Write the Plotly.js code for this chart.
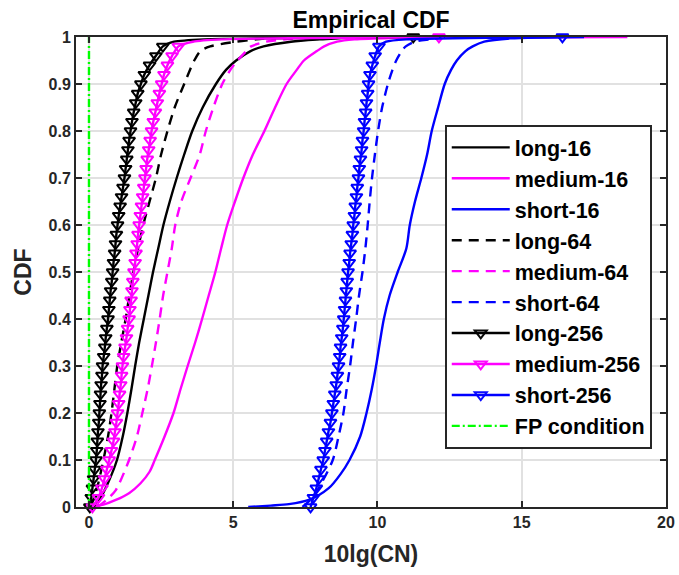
<!DOCTYPE html>
<html>
<head>
<meta charset="utf-8">
<script src="https://cdn.plot.ly/plotly-3.0.1.min.js"></script>
<style>html,body{margin:0;padding:0;background:#fff;}#chart{width:679px;height:575px;}</style>
</head>
<body>
<div id="chart"></div>
<script>
// ---- data (x = 10lg(CN), c = CDF) ----
const long16X = [0.10,0.40,0.65,0.97,1.17,1.33,1.47,1.60,1.74,1.90,2.06,2.22,2.40,2.58,2.80,3.04,3.30,3.58,3.94,4.40,4.75,5.10,5.60,6.05,7.0,8.0,9.5];
const long16C = [0,0.02,0.05,0.1,0.15,0.2,0.25,0.3,0.35,0.4,0.45,0.5,0.55,0.6,0.65,0.7,0.75,0.8,0.85,0.9,0.93,0.95,0.97,0.98,0.99,0.995,1];

const medium16X = [0.05,0.5,0.93,1.40,1.78,2.10,2.28,2.62,2.93,3.17,3.42,3.68,3.92,4.15,4.38,4.58,4.79,5.06,5.35,5.68,6.08,6.45,6.85,7.20,7.45,7.90,8.15,8.60,9.2,10.5,18.66];
const medium16C = [0,0.005,0.015,0.03,0.05,0.075,0.1,0.15,0.2,0.25,0.3,0.35,0.4,0.45,0.5,0.55,0.6,0.65,0.7,0.75,0.8,0.85,0.9,0.93,0.95,0.97,0.98,0.99,0.995,0.998,1];

const short16X = [5.52,6.3,6.93,7.62,8.31,8.72,9.03,9.40,9.62,9.80,9.95,10.08,10.22,10.42,10.70,11.00,11.12,11.30,11.52,11.72,11.88,12.10,12.33,12.55,12.75,13.05,13.30,13.70,14.6,17.16];
const short16C = [0,0.003,0.006,0.015,0.04,0.07,0.1,0.15,0.2,0.25,0.3,0.35,0.4,0.45,0.5,0.55,0.6,0.65,0.7,0.75,0.8,0.85,0.9,0.93,0.95,0.97,0.98,0.99,0.997,1];

const long64X = [0.05,0.18,0.32,0.50,0.66,0.78,0.88,0.98,1.12,1.27,1.40,1.54,1.70,1.88,2.10,2.32,2.50,2.72,2.97,3.30,3.50,3.65,3.86,4.20,5.10,5.8,6.8];
const long64C = [0,0.02,0.05,0.1,0.15,0.2,0.25,0.3,0.35,0.4,0.45,0.5,0.55,0.6,0.65,0.7,0.75,0.8,0.85,0.9,0.93,0.95,0.97,0.98,0.99,0.995,1];

const medium64X = [0.30,0.70,0.93,1.05,1.39,1.66,1.85,2.03,2.18,2.32,2.45,2.57,2.72,2.87,2.99,3.20,3.52,3.84,4.05,4.31,4.62,4.90,5.15,5.45,5.62,6.13,6.8,8.3];
const medium64C = [0,0.02,0.036,0.05,0.1,0.15,0.2,0.25,0.3,0.35,0.4,0.45,0.5,0.55,0.6,0.65,0.7,0.75,0.8,0.85,0.9,0.93,0.95,0.97,0.98,0.99,0.995,1];

const short64X = [7.40,7.75,8.05,8.45,8.65,8.82,8.93,9.05,9.15,9.26,9.36,9.48,9.58,9.66,9.73,9.81,9.91,10.02,10.16,10.36,10.52,10.65,10.84,10.98,11.3,11.8,12.5];
const short64C = [0,0.02,0.05,0.1,0.15,0.2,0.25,0.3,0.35,0.4,0.45,0.5,0.55,0.6,0.65,0.7,0.75,0.8,0.85,0.9,0.93,0.95,0.97,0.98,0.99,0.995,1];

// 256-length series: markers at CDF = 0, 0.02, ..., 0.98 and at 1 (tail points without marker)
const cdf256 = [0,0.02,0.04,0.06,0.08,0.1,0.12,0.14,0.16,0.18,0.2,0.22,0.24,0.26,0.28,0.3,0.32,0.34,0.36,0.38,0.4,0.42,0.44,0.46,0.48,0.5,0.52,0.54,0.56,0.58,0.6,0.62,0.64,0.66,0.68,0.7,0.72,0.74,0.76,0.78,0.8,0.82,0.84,0.86,0.88,0.9,0.92,0.94,0.96,0.98,0.99,0.995,1];
const long256X = [0.03,0.08,0.12,0.16,0.20,0.24,0.27,0.29,0.31,0.34,0.36,0.38,0.40,0.42,0.45,0.47,0.51,0.55,0.58,0.62,0.66,0.69,0.72,0.75,0.79,0.82,0.85,0.89,0.92,0.95,0.99,1.03,1.08,1.13,1.18,1.23,1.27,1.31,1.35,1.39,1.44,1.49,1.55,1.62,1.69,1.80,1.92,2.10,2.32,2.56,2.95,4.0,11.24];
const medium256X = [0.12,0.33,0.45,0.54,0.62,0.70,0.78,0.85,0.90,0.95,0.99,1.03,1.06,1.10,1.13,1.16,1.20,1.25,1.30,1.34,1.39,1.42,1.46,1.49,1.52,1.56,1.60,1.63,1.67,1.70,1.74,1.78,1.82,1.86,1.90,1.94,1.98,2.02,2.07,2.12,2.17,2.23,2.30,2.37,2.44,2.52,2.60,2.72,2.88,3.10,3.6,4.6,12.13];
const short256X = [7.68,7.78,7.88,7.96,8.04,8.12,8.18,8.24,8.30,8.37,8.42,8.47,8.52,8.57,8.61,8.65,8.69,8.72,8.76,8.80,8.83,8.86,8.89,8.92,8.95,8.98,9.02,9.05,9.09,9.13,9.16,9.20,9.23,9.27,9.30,9.34,9.37,9.41,9.45,9.48,9.52,9.55,9.59,9.62,9.66,9.69,9.74,9.82,9.92,10.05,10.3,11.0,16.41];

const fpX = [0, 0];
const fpC = [0, 1];

const seriesNames = ['long-16','medium-16','short-16','long-64','medium-64','short-64','long-256','medium-256','short-256','FP condition'];
const titleText = 'Empirical CDF';
const xTitle = '10lg(CN)';
const yTitle = 'CDF';

// ---- styling ----
const BLACK = '#000000', MAG = '#FF00FF', BLUE = '#0000FF', GREEN = '#00FF00';
const LW = 2.4;
const DASH = '10px,7px';
const FONT = 'Liberation Sans, Arial, Helvetica, sans-serif';

function lineTrace(x, y, name, color, dash, shape) {
  return {x: x, y: y, name: name, type: 'scatter', mode: 'lines', cliponaxis: false,
          line: {color: color, width: LW, dash: dash, shape: shape || 'spline', smoothing: 0.8}};
}
// markers shown only at the sampled points (every 0.02 of CDF) and at the last point
const markerOpacity = cdf256.map(function (c, i) {
  return (i === cdf256.length - 1 || Math.abs(c * 50 - Math.round(c * 50)) < 1e-6) ? 1 : 0;
});
function markerTrace(x, y, name, color) {
  return {x: x, y: y, name: name, type: 'scatter', mode: 'lines+markers', cliponaxis: false,
          line: {color: color, width: LW, shape: 'spline', smoothing: 0.6},
          marker: {symbol: 'triangle-down-open', size: 10.5, color: color, opacity: markerOpacity,
                   line: {color: color, width: 2}}};
}

const data = [
  lineTrace(long16X, long16C, seriesNames[0], BLACK, 'solid'),
  lineTrace(medium16X, medium16C, seriesNames[1], MAG, 'solid'),
  lineTrace(short16X, short16C, seriesNames[2], BLUE, 'solid'),
  lineTrace(long64X, long64C, seriesNames[3], BLACK, DASH),
  lineTrace(medium64X, medium64C, seriesNames[4], MAG, DASH),
  lineTrace(short64X, short64C, seriesNames[5], BLUE, DASH),
  markerTrace(long256X, cdf256, seriesNames[6], BLACK),
  markerTrace(medium256X, cdf256, seriesNames[7], MAG),
  markerTrace(short256X, cdf256, seriesNames[8], BLUE),
  lineTrace(fpX, fpC, seriesNames[9], GREEN, '8px,3px,2px,3px', 'linear')
];

const axisCommon = {
  showline: true, linecolor: '#262626', linewidth: 2, mirror: 'ticks',
  ticks: 'inside', ticklen: 6, tickwidth: 2, tickcolor: '#262626',
  showgrid: true, gridcolor: '#e1e1e1', gridwidth: 2, zeroline: false,
  tickfont: {family: FONT, size: 16, color: '#262626', weight: 'bold'}
};

const layout = {
  width: 679, height: 575,
  margin: {l: 76, r: 13, t: 37, b: 68},
  paper_bgcolor: '#ffffff', plot_bgcolor: '#ffffff',
  title: {text: titleText, x: 0.5465, xanchor: 'center', y: 0.966, yanchor: 'middle',
          font: {family: FONT, size: 23, color: '#000000', weight: 'bold'}},
  xaxis: Object.assign({}, axisCommon, {
    range: [-0.45, 20], tickmode: 'array', tickvals: [0, 5, 10, 15, 20],
    title: {text: xTitle, standoff: 16, font: {family: FONT, size: 23, color: '#262626', weight: 'bold'}}
  }),
  yaxis: Object.assign({}, axisCommon, {
    range: [0, 1], dtick: 0.1, tick0: 0,
    title: {text: yTitle, standoff: 10, font: {family: FONT, size: 23, color: '#262626', weight: 'bold'}}
  }),
  showlegend: true,
  legend: {x: 0.625, y: 0.813, xanchor: 'left', yanchor: 'top',
           bgcolor: '#ffffff', bordercolor: '#262626', borderwidth: 2,
           itemwidth: 58, tracegroupgap: 0,
           font: {family: FONT, size: 21.5, color: '#000000', weight: 'bold'}}
};

Plotly.newPlot('chart', data, layout, {displayModeBar: false, staticPlot: true});
</script>
</body>
</html>
